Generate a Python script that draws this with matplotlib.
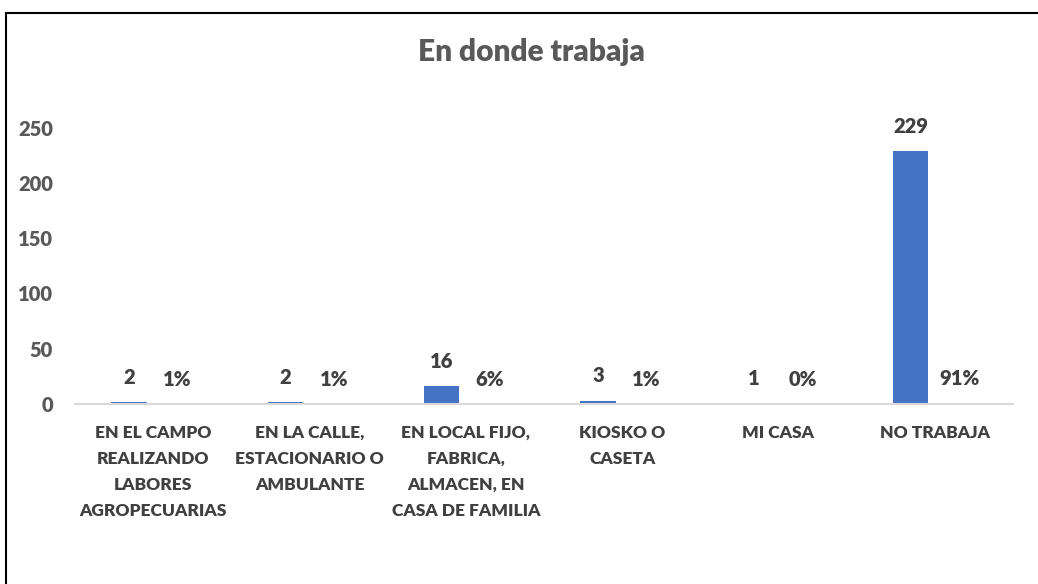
import matplotlib as mpl
import matplotlib.pyplot as plt
import numpy as np
from matplotlib.patches import Rectangle

mpl.rcParams.update({
    "font.family": ["Lato", "DejaVu Sans"],
    "font.weight": "heavy",
})
WT = "heavy"

categories = [
    "EN EL CAMPO\nREALIZANDO\nLABORES\nAGROPECUARIAS",
    "EN LA CALLE,\nESTACIONARIO O\nAMBULANTE",
    "EN LOCAL FIJO,\nFABRICA,\nALMACEN, EN\nCASA DE FAMILIA",
    "KIOSKO O\nCASETA",
    "MI CASA",
    "NO TRABAJA",
]
counts = [2, 2, 16, 3, 1, 229]
shares = [0.01, 0.01, 0.06, 0.01, 0.00, 0.91]

W, H = 1038, 584
fig = plt.figure(figsize=(W / 100, H / 100), dpi=100)
# plot area in pixel units: x 75..1013, zero line at y=404
ax = fig.add_axes([75 / W, (H - 404) / H, (1013 - 75) / W, (404 - 100) / H])

x = np.arange(len(categories))
width = 0.225
off = 0.155
blue = "#4472c4"
ax.bar(x - off, counts, width, color=blue)
ax.bar(x + off, shares, width, color="#ed7d31")

txt = "#404040"
for xi, c in zip(x, counts):
    ax.annotate(str(c), (xi - off, c), xytext=(0, 11), textcoords="offset points",
                ha="center", va="bottom", fontsize=14.5, color=txt, fontweight=WT)
for xi, s in zip(x, shares):
    ax.annotate(f"{s:.0%}", (xi + off, s), xytext=(0, 11), textcoords="offset points",
                ha="center", va="bottom", fontsize=14.5, color=txt, fontweight=WT)

ax.set_xlim(-0.5, len(categories) - 0.5)
ax.set_ylim(0, 275)
ax.set_yticks([0, 50, 100, 150, 200, 250])
ax.set_xticks(x)
ax.set_xticklabels(categories, fontsize=12.5, color=txt, linespacing=1.78)
ax.tick_params(axis="x", length=0, pad=15)
ax.tick_params(axis="y", length=0, pad=16, labelsize=14.5, labelcolor="#595959")
for lab in ax.get_xticklabels() + ax.get_yticklabels():
    lab.set_fontweight(WT)

for side in ["top", "right", "left"]:
    ax.spines[side].set_visible(False)
ax.spines["bottom"].set_color("#d9d9d9")
ax.spines["bottom"].set_linewidth(1.5)

fig.text(531 / W, 1 - 52 / H, "En donde trabaja", ha="center", va="center",
         fontsize=21.5, color="#595959", fontweight=WT)

# outer chart frame
fig.patches.append(Rectangle((5.5 / W, -0.1), 1.2, 1 - 12.5 / H + 0.1,
                             transform=fig.transFigure, fill=False,
                             edgecolor="black", linewidth=1.5))

fig.savefig("out.png", dpi=100)
